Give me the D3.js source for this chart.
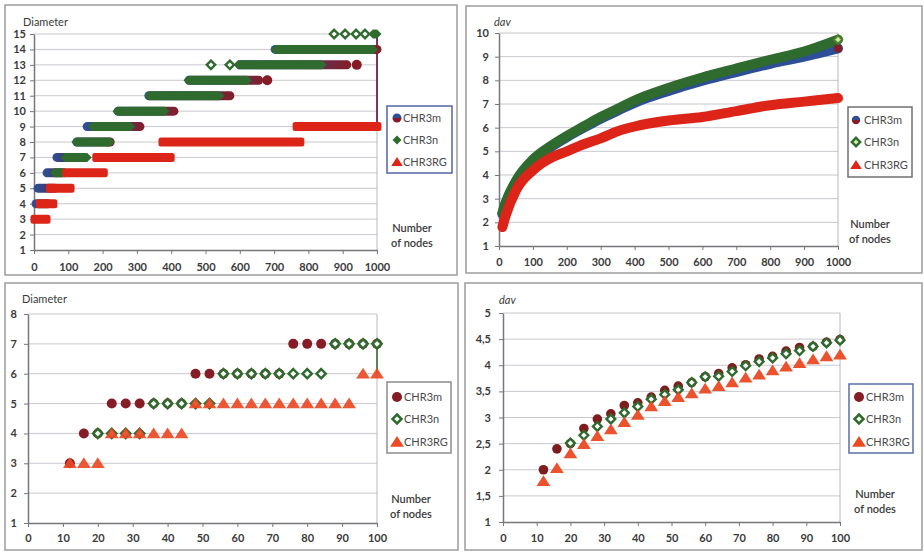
<!DOCTYPE html>
<html>
<head>
<meta charset="utf-8">
<script src="https://cdn.jsdelivr.net/npm/d3@7"></script>
<style>
  body { margin: 0; background: #fff; }
  svg { display: block; }
</style>
</head>
<body>
<svg id="chart" width="924" height="553"></svg>
<script>
// ---------------- data ----------------
const seriesNames = ["CHR3m", "CHR3n", "CHR3RG"];

// tick values
const xTicksLarge = [0, 100, 200, 300, 400, 500, 600, 700, 800, 900, 1000];
const xTicksSmall = [0, 10, 20, 30, 40, 50, 60, 70, 80, 90, 100];
const yTicksDiamLarge = [1, 2, 3, 4, 5, 6, 7, 8, 9, 10, 11, 12, 13, 14, 15];
const yTicksDavLarge = [1, 2, 3, 4, 5, 6, 7, 8, 9, 10];
const yTicksDiamSmall = [1, 2, 3, 4, 5, 6, 7, 8];
const yTicksDavSmall = [1, 1.5, 2, 2.5, 3, 3.5, 4, 4.5, 5];

// diameter, up to 1000 nodes: runs of [diameter, first nodes, last nodes]
const diamLargeM = [[4, 6, 40], [5, 12, 60], [6, 38, 80], [7, 67, 110], [8, 125, 222], [9, 155, 309],
  [10, 245, 408], [11, 335, 571], [12, 452, 655], [12, 680, 680], [13, 600, 912], [13, 941, 941], [14, 703, 1000]];
const diamLargeN = [[6, 60, 90], [7, 90, 155], [8, 122, 222], [9, 170, 282], [10, 242, 382], [11, 335, 542],
  [12, 449, 622], [13, 516, 516], [13, 571, 571], [13, 595, 840], [14, 703, 990],
  [15, 875, 875], [15, 907, 907], [15, 939, 939], [15, 965, 965], [15, 988, 1000]];
const diamLargeRG = [[3, 3, 35], [4, 18, 55], [5, 48, 105], [6, 95, 202], [7, 183, 397], [8, 376, 775], [9, 767, 1000]];

// average distance, up to 1000 nodes
const davLargeNodes = [10, 20, 50, 100, 150, 200, 250, 300, 350, 400, 500, 600, 700, 800, 900, 1000];
const davLargeM  = [2.35, 2.8, 3.7, 4.6, 5.15, 5.6, 6.0, 6.38, 6.72, 7.05, 7.55, 7.98, 8.35, 8.7, 9.0, 9.35];
const davLargeN  = [2.4, 2.85, 3.75, 4.65, 5.2, 5.65, 6.05, 6.45, 6.8, 7.15, 7.68, 8.12, 8.5, 8.87, 9.22, 9.72];
const davLargeRG = [1.8, 2.3, 3.35, 4.2, 4.7, 5.0, 5.3, 5.55, 5.85, 6.05, 6.3, 6.45, 6.7, 6.95, 7.1, 7.25];

// up to 100 nodes
const smallNodes = [12, 16, 20, 24, 28, 32, 36, 40, 44, 48, 52, 56, 60, 64, 68, 72, 76, 80, 84, 88, 92, 96, 100];
const diamSmallM  = [3, 4, 4, 5, 5, 5, 5, 5, 5, 6, 6, 6, 6, 6, 6, 6, 7, 7, 7, 7, 7, 7, 7];
const diamSmallN  = [null, null, 4, 4, 4, 4, 5, 5, 5, 5, 5, 6, 6, 6, 6, 6, 6, 6, 6, 7, 7, 7, 7];
const diamSmallRG = [3, 3, 3, 4, 4, 4, 4, 4, 4, 5, 5, 5, 5, 5, 5, 5, 5, 5, 5, 5, 5, 6, 6];

const davSmallM  = [2.0, 2.4, 2.5, 2.79, 2.97, 3.07, 3.23, 3.28, 3.39, 3.52, 3.6, 3.67, 3.78, 3.84, 3.95, 4.01, 4.12, 4.17, 4.27, 4.34, 4.36, 4.44, 4.49];
const davSmallN  = [null, null, 2.51, 2.66, 2.83, 2.97, 3.09, 3.21, 3.35, 3.44, 3.53, 3.67, 3.78, 3.79, 3.88, 3.99, 4.07, 4.14, 4.22, 4.28, 4.36, 4.43, 4.48];
const davSmallRG = [1.78, 2.03, 2.31, 2.49, 2.64, 2.77, 2.91, 3.05, 3.21, 3.31, 3.39, 3.46, 3.55, 3.6, 3.67, 3.76, 3.82, 3.9, 3.97, 4.04, 4.11, 4.17, 4.2];

// ---------------- styles ----------------
const FONT = "Lato, 'Open Sans', 'DejaVu Sans', sans-serif";
const C = {
  mRed: "#861d26", mBlue: "#2e4f97", nGreen: "#2f6a2e", rgRed: "#dc2419", rgOrange: "#ea4a24",
  text: "#3a3a3a", axis: "#76767f", grid: "#c8c8d0", frame: "#9c9c9c", plotBorder: "#b8b8bc"
};

const svg = d3.select("#chart");
const defs = svg.append("defs");

const bandGrad = defs.append("linearGradient").attr("id", "mBand").attr("x1", 0).attr("x2", 1).attr("y1", 0).attr("y2", 0);
bandGrad.append("stop").attr("offset", 0).attr("stop-color", C.mBlue);
bandGrad.append("stop").attr("offset", 0.45).attr("stop-color", "#3d3f78");
bandGrad.append("stop").attr("offset", 1).attr("stop-color", C.mRed);

const legGrad = defs.append("linearGradient").attr("id", "mLegend").attr("x1", 0).attr("x2", 0).attr("y1", 0).attr("y2", 1);
legGrad.append("stop").attr("offset", 0.45).attr("stop-color", C.mBlue);
legGrad.append("stop").attr("offset", 0.55).attr("stop-color", C.mRed);

// marker shapes
const diamondPath = r => `M0,${-r}L${r},0L0,${r}L${-r},0Z`;
const trianglePath = r => `M0,${-r}L${r * 1.15},${r * 0.8}L${-r * 1.15},${r * 0.8}Z`;

function drawMarker(g, kind, cx, cy, opt) {
  if (kind === "circle") {
    return g.append("circle").attr("cx", cx).attr("cy", cy).attr("r", opt.r).attr("fill", opt.fill);
  }
  if (kind === "diamond") {
    return g.append("path").attr("d", diamondPath(opt.r)).attr("transform", `translate(${cx},${cy})`)
      .attr("fill", opt.fill).attr("stroke", opt.stroke || "none").attr("stroke-width", opt.sw || 0);
  }
  return g.append("path").attr("d", trianglePath(opt.r)).attr("transform", `translate(${cx},${cy})`)
    .attr("fill", opt.fill);
}

// frame, grid, axes, titles and legend shared by all four panels
function panel(cfg) {
  const g = svg.append("g");
  const [fx0, fy0, fx1, fy1] = cfg.frame;
  g.append("rect").attr("x", fx0).attr("y", fy0).attr("width", fx1 - fx0).attr("height", fy1 - fy0)
    .attr("fill", "#fff").attr("stroke", C.frame).attr("stroke-width", 1.5);

  const x = d3.scaleLinear().domain(cfg.xDomain).range([cfg.plot.x0, cfg.plot.x1]);
  const y = d3.scaleLinear().domain(cfg.yDomain).range([cfg.plot.y1, cfg.plot.y0]);

  g.append("g").selectAll("line").data(cfg.yTicks.filter(v => v > cfg.yDomain[0]))
    .join("line")
    .attr("x1", cfg.plot.x0).attr("x2", cfg.plot.x1)
    .attr("y1", d => y(d)).attr("y2", d => y(d))
    .attr("stroke", C.grid).attr("stroke-width", 1);

  g.append("line").attr("x1", cfg.plot.x1).attr("x2", cfg.plot.x1)
    .attr("y1", cfg.plot.y0).attr("y2", cfg.plot.y1).attr("stroke", C.plotBorder);

  const xa = g.append("g").attr("transform", `translate(0,${cfg.plot.y1})`)
    .call(d3.axisBottom(x).tickValues(cfg.xTicks).tickSizeInner(4).tickSizeOuter(0).tickPadding(cfg.xPad).tickFormat(d3.format("d")));
  const ya = g.append("g").attr("transform", `translate(${cfg.plot.x0},0)`)
    .call(d3.axisLeft(y).tickValues(cfg.yTicks).tickSizeInner(4).tickSizeOuter(0).tickPadding(cfg.yPad).tickFormat(cfg.yFormat));
  [xa, ya].forEach(a => {
    a.select(".domain").attr("stroke", C.axis).attr("stroke-width", 1.5);
    a.selectAll(".tick line").attr("stroke", C.axis);
    a.selectAll("text").attr("fill", C.text).attr("font-size", 11).attr("font-weight", "bold").attr("font-family", FONT);
  });

  g.append("text").attr("x", cfg.title.x).attr("y", cfg.title.y).attr("dy", "0.35em")
    .attr("font-family", FONT).attr("font-size", 11).attr("fill", C.text)
    .attr("font-style", cfg.title.italic ? "italic" : "normal")
    .text(cfg.title.text);

  [["Number", 0], ["of nodes", 15]].forEach(([t, dy]) => {
    g.append("text").attr("x", cfg.nodesLabel.x).attr("y", cfg.nodesLabel.y + dy).attr("dy", "0.35em")
      .attr("text-anchor", "middle").attr("font-family", FONT).attr("font-size", 11)
      .attr("font-weight", 600).attr("fill", C.text).text(t);
  });

  const L = cfg.legend;
  g.append("rect").attr("x", L.box[0]).attr("y", L.box[1]).attr("width", L.box[2] - L.box[0]).attr("height", L.box[3] - L.box[1])
    .attr("fill", "#fff").attr("stroke", L.stroke).attr("stroke-width", 1.5);
  seriesNames.forEach((name, i) => {
    const cy = L.rows[i];
    const m = L.markers[i];
    drawMarker(g, m.kind, L.mx, cy, m);
    g.append("text").attr("x", L.tx).attr("y", cy).attr("dy", "0.35em")
      .attr("font-family", FONT).attr("font-size", 11).attr("fill", "#4a4a4a").text(name);
  });

  return { g, x, y };
}

const intFmt = d3.format("d");
const commaFmt = d => String(d).replace(".", ",");

// ---------- top left: diameter up to 1000 nodes ----------
{
  const p = panel({
    frame: [5, 5, 457, 275],
    plot: { x0: 34, x1: 377, y0: 34, y1: 250 },
    xDomain: [0, 1000], yDomain: [1, 15],
    xTicks: xTicksLarge, yTicks: yTicksDiamLarge, yFormat: intFmt,
    xPad: 9, yPad: 4,
    title: { text: "Diameter", x: 23, y: 22 },
    nodesLabel: { x: 412, y: 228 },
    legend: {
      box: [387, 106, 452, 173], stroke: "#5067a6", rows: [118, 140, 162], mx: 397, tx: 403,
      markers: [
        { kind: "circle", r: 4.5, fill: "url(#mLegend)" },
        { kind: "diamond", r: 4.5, fill: C.nGreen },
        { kind: "triangle", r: 5, fill: C.rgRed }
      ]
    }
  });
  const { g, x, y } = p;
  const h = 9, hh = h / 2;
  const marks = g.append("g");

  // connector joining the last points at 1000 nodes
  const lastRG = diamLargeRG[diamLargeRG.length - 1];
  const lastN = diamLargeN[diamLargeN.length - 1];
  marks.append("line").attr("x1", x(lastN[2])).attr("x2", x(lastN[2]))
    .attr("y1", y(lastN[0])).attr("y2", y(lastRG[0]))
    .attr("stroke", "#7a3563").attr("stroke-width", 2);

  diamLargeM.forEach(([d, a, b]) => {
    if (a === b) {
      marks.append("circle").attr("cx", x(a)).attr("cy", y(d)).attr("r", hh + 0.5).attr("fill", C.mRed);
    } else {
      marks.append("rect").attr("x", x(a) - hh).attr("y", y(d) - hh)
        .attr("width", x(b) - x(a) + h).attr("height", h).attr("rx", hh)
        .attr("fill", "url(#mBand)");
    }
  });
  diamLargeN.forEach(([d, a, b]) => {
    const cy = y(d);
    if (a === b) {
      marks.append("path").attr("d", diamondPath(4.2)).attr("transform", `translate(${x(a)},${cy})`)
        .attr("fill", "#fff").attr("stroke", C.nGreen).attr("stroke-width", 2.4);
    } else {
      const xl = x(a), xr = x(b);
      marks.append("path")
        .attr("d", `M${xl - hh},${cy}L${xl},${cy - hh}L${xr},${cy - hh}L${xr + hh},${cy}L${xr},${cy + hh}L${xl},${cy + hh}Z`)
        .attr("fill", C.nGreen);
    }
  });
  diamLargeRG.forEach(([d, a, b]) => {
    marks.append("rect").attr("x", x(a) - hh).attr("y", y(d) - hh)
      .attr("width", x(b) - x(a) + h).attr("height", h).attr("rx", 2.5)
      .attr("fill", C.rgRed);
  });
}

// ---------- top right: average distance up to 1000 nodes ----------
{
  const p = panel({
    frame: [466, 6, 922, 273],
    plot: { x0: 499, x1: 838, y0: 33, y1: 246 },
    xDomain: [0, 1000], yDomain: [1, 10],
    xTicks: xTicksLarge, yTicks: yTicksDavLarge, yFormat: intFmt,
    xPad: 8, yPad: 6,
    title: { text: "dav", x: 494, y: 22, italic: true },
    nodesLabel: { x: 870, y: 224 },
    legend: {
      box: [848, 107, 912, 177], stroke: "#707070", rows: [120, 142, 165], mx: 856, tx: 864,
      markers: [
        { kind: "circle", r: 4.2, fill: "url(#mLegend)" },
        { kind: "diamond", r: 4.2, fill: "#d8e8a0", stroke: C.nGreen, sw: 2.4 },
        { kind: "triangle", r: 5, fill: C.rgRed }
      ]
    }
  });
  const { g, x, y } = p;
  const line = d3.line().x(d => x(d[0])).y(d => y(d[1])).curve(d3.curveMonotoneX);
  const marks = g.append("g");
  const sets = [
    { v: davLargeM, c: C.mBlue },
    { v: davLargeN, c: C.nGreen },
    { v: davLargeRG, c: C.rgRed }
  ];
  sets.forEach(s => {
    marks.append("path").datum(davLargeNodes.map((n, i) => [n, s.v[i]]))
      .attr("d", line).attr("fill", "none").attr("stroke", s.c)
      .attr("stroke-width", 10).attr("stroke-linecap", "round");
  });
  const last = davLargeNodes.length - 1;
  marks.append("circle").attr("cx", x(davLargeNodes[last])).attr("cy", y(davLargeM[last])).attr("r", 4).attr("fill", C.mRed);
  marks.append("path").attr("d", diamondPath(4.2))
    .attr("transform", `translate(${x(davLargeNodes[last])},${y(davLargeN[last])})`)
    .attr("fill", "#d8e8a0").attr("stroke", "#4c7f2c").attr("stroke-width", 2);
}

// ---------- bottom left: diameter up to 100 nodes ----------
{
  const p = panel({
    frame: [5, 283, 458, 550],
    plot: { x0: 28, x1: 377, y0: 314, y1: 523 },
    xDomain: [0, 100], yDomain: [1, 8],
    xTicks: xTicksSmall, yTicks: yTicksDiamSmall, yFormat: intFmt,
    xPad: 7, yPad: 7,
    title: { text: "Diameter", x: 22, y: 299 },
    nodesLabel: { x: 411, y: 499 },
    legend: {
      box: [387, 382, 451, 453], stroke: "#8c8c8c", rows: [397, 419, 442], mx: 397, tx: 404,
      markers: [
        { kind: "circle", r: 5, fill: C.mRed },
        { kind: "diamond", r: 4.5, fill: "#fff", stroke: C.nGreen, sw: 2.5 },
        { kind: "triangle", r: 6, fill: C.rgOrange }
      ]
    }
  });
  const { g, x, y } = p;
  const marks = g.append("g");
  const last = smallNodes.length - 1;
  marks.append("line").attr("x1", x(smallNodes[last])).attr("x2", x(smallNodes[last]))
    .attr("y1", y(diamSmallN[last])).attr("y2", y(diamSmallRG[last]))
    .attr("stroke", C.nGreen).attr("stroke-width", 1.5);
  smallNodes.forEach((n, i) => drawMarker(marks, "circle", x(n), y(diamSmallM[i]), { r: 5, fill: C.mRed }));
  smallNodes.forEach((n, i) => {
    if (diamSmallN[i] == null) return;
    drawMarker(marks, "diamond", x(n), y(diamSmallN[i]), { r: 4.6, fill: "#fff", stroke: C.nGreen, sw: 2.5 });
  });
  smallNodes.forEach((n, i) => drawMarker(marks, "triangle", x(n), y(diamSmallRG[i]), { r: 6, fill: C.rgOrange }).attr("fill-opacity", 0.92));
}

// ---------- bottom right: average distance up to 100 nodes ----------
{
  const p = panel({
    frame: [465, 283, 922, 550],
    plot: { x0: 503, x1: 840, y0: 313, y1: 522 },
    xDomain: [0, 100], yDomain: [1, 5],
    xTicks: xTicksSmall, yTicks: yTicksDavSmall, yFormat: commaFmt,
    xPad: 8, yPad: 8,
    title: { text: "dav", x: 499, y: 300, italic: true },
    nodesLabel: { x: 875, y: 494 },
    legend: {
      box: [849, 384, 913, 453], stroke: "#5a6fa8", rows: [397, 419, 442], mx: 859, tx: 866,
      markers: [
        { kind: "circle", r: 5, fill: C.mRed },
        { kind: "diamond", r: 4.5, fill: "#fff", stroke: C.nGreen, sw: 2.5 },
        { kind: "triangle", r: 6, fill: C.rgOrange }
      ]
    }
  });
  const { g, x, y } = p;
  const marks = g.append("g");
  smallNodes.forEach((n, i) => drawMarker(marks, "circle", x(n), y(davSmallM[i]), { r: 4.8, fill: "#7e1d1d" }));
  smallNodes.forEach((n, i) => {
    if (davSmallN[i] == null) return;
    drawMarker(marks, "diamond", x(n), y(davSmallN[i]), { r: 4.4, fill: "#fff", stroke: C.nGreen, sw: 2.4 });
  });
  smallNodes.forEach((n, i) => drawMarker(marks, "triangle", x(n), y(davSmallRG[i]), { r: 6, fill: C.rgOrange }).attr("fill-opacity", 0.95));
}
</script>
</body>
</html>
